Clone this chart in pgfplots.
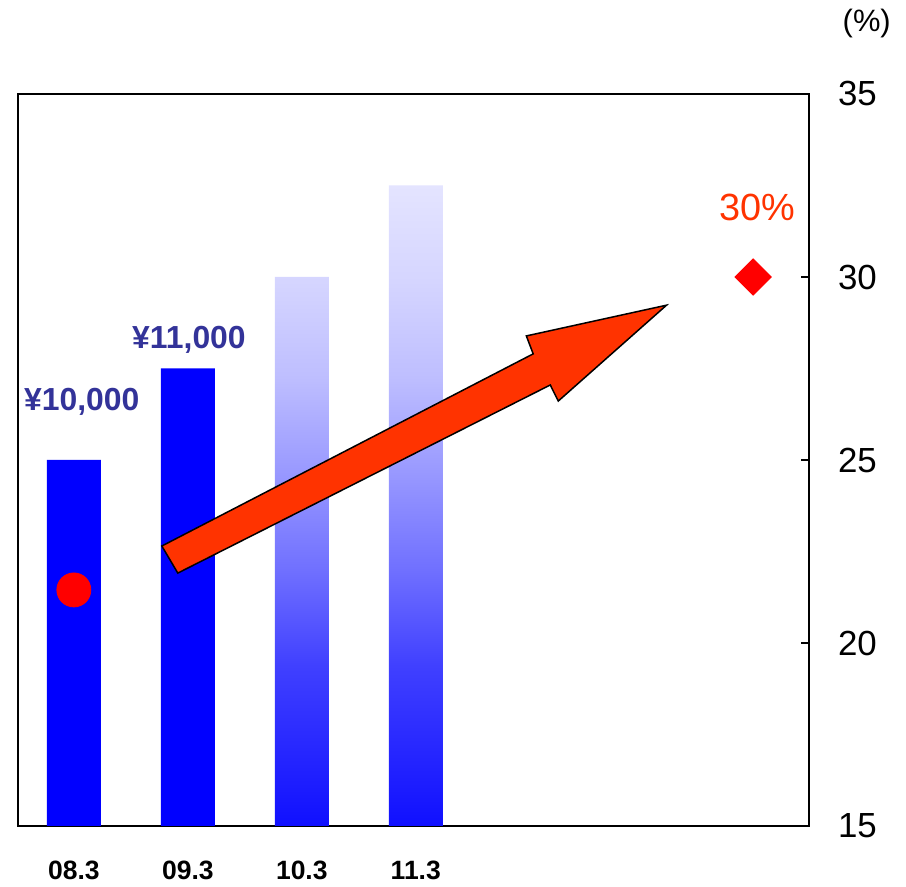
\documentclass[border=0pt]{standalone}
\usepackage{fontspec}
\setmainfont{Liberation Sans}
\usepackage{pgfplots}
\pgfplotsset{compat=1.18}
\definecolor{barblue}{HTML}{0000FF}
\definecolor{labblue}{HTML}{333399}
\definecolor{arrowred}{HTML}{FF3300}
\definecolor{g0}{HTML}{1010FF}
\definecolor{g1}{HTML}{4040FF}
\definecolor{g2}{HTML}{7070FF}
\definecolor{g3}{HTML}{9898FF}
\definecolor{g4}{HTML}{BEBEFF}
\definecolor{g5}{HTML}{D5D5FF}
\definecolor{g6}{HTML}{E4E4FF}
\pgfdeclareverticalshading{barfade}{100bp}{color(0bp)=(g0); color(25bp)=(g0); color(37.5bp)=(g1); color(45bp)=(g2); color(52.5bp)=(g3); color(60bp)=(g4); color(67.5bp)=(g5); color(75bp)=(g6); color(100bp)=(g6)}
\begin{document}
\begin{tikzpicture}
\begin{axis}[
  at={(0,0)}, anchor=south west,
  width=395.5bp, height=366bp, scale only axis,
  xmin=-0.49, xmax=6.45, ymin=15, ymax=35,
  clip mode=individual,
  axis line style={line width=1bp},
  xtick={0,1,2,3}, xticklabels={08.3,09.3,10.3,11.3},
  major x tick style={draw=none},
  ytick={15,20,25,30,35}, ytick pos=right, yticklabel pos=right,
  tick align=inside, major tick length=4bp,
  major y tick style={line width=1bp, black},
  xticklabel style={font=\fontsize{13.3}{15}\selectfont\bfseries, yshift=-14bp},
  yticklabel style={font=\fontsize{17.5}{20}\selectfont, xshift=11bp},
  /pgf/number format/assume math mode=true,
]
\addplot[ybar, bar width=27bp, bar shift=0pt, fill=barblue, draw=none] coordinates {(0,25) (1,27.5)};
\addplot[ybar, bar width=27bp, bar shift=0pt, draw=none, fill=none, shade, shading=barfade] coordinates {(2,30) (3,32.5)};
\addplot[only marks, mark=*, mark size=8.5bp, color=red] coordinates {(0,21.45)};
\addplot[only marks, mark=square*, mark size=6.4bp, mark options={rotate=45}, color=red] coordinates {(5.96,30)};
\draw[fill=arrowred, line width=0.75bp, line join=miter] (axis cs:0.772,22.65) -- (axis cs:4.03,27.90) -- (axis cs:3.97,28.39) -- (axis cs:5.20,29.23) -- (axis cs:4.25,26.61) -- (axis cs:4.18,27.05) -- (axis cs:0.912,21.91) -- cycle;
\node[text=labblue, font=\fontsize{16}{18}\selectfont\bfseries] at (axis cs:0.07,26.58) {¥10,000};
\node[text=labblue, font=\fontsize{16}{18}\selectfont\bfseries] at (axis cs:1.01,28.28) {¥11,000};
\node[text=arrowred, font=\fontsize{19}{22}\selectfont] at (axis cs:6.0,31.9) {30\%};
\node[font=\fontsize{15.5}{18}\selectfont] at (rel axis cs:1.073,1.096) {(\%)};
\end{axis}
\path (-9bp,-30.5bp) rectangle (444bp,413bp);
\end{tikzpicture}
\end{document}
